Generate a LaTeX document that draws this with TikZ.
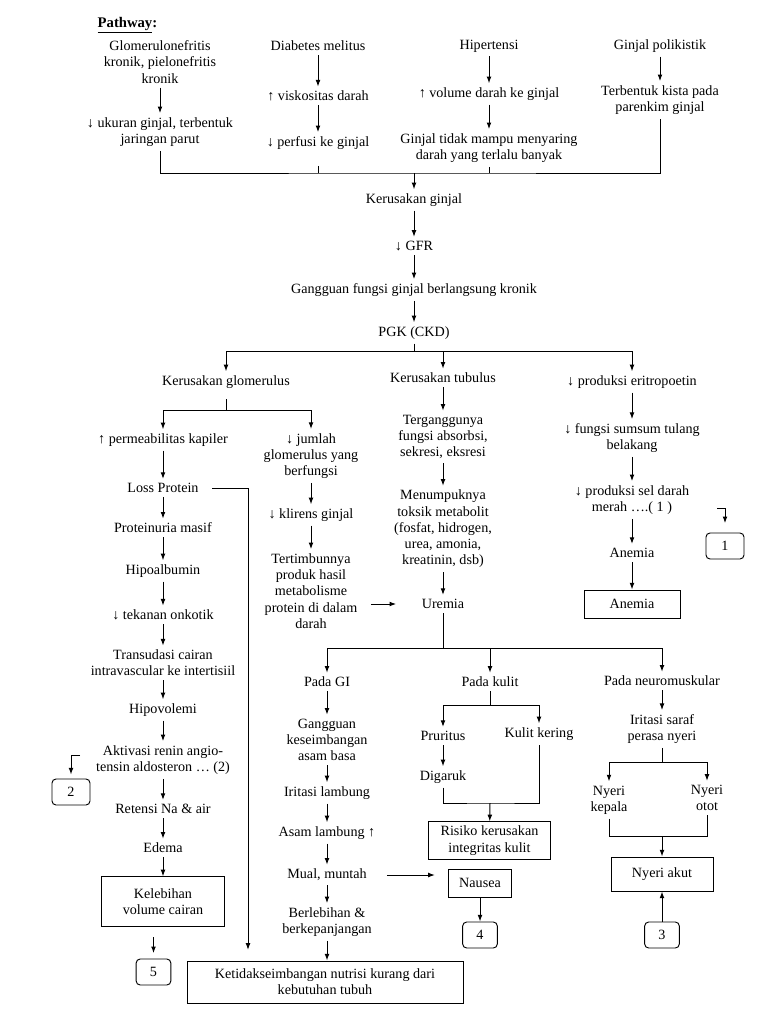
\documentclass[tikz,border=0pt]{standalone}
\usepackage{fontspec}
\setmainfont{Liberation Serif}
\usepackage{tikz}
\usetikzlibrary{arrows.meta}

\begin{document}
\begin{tikzpicture}[
  x=0.75pt, y=-0.75pt,
  every node/.style={font=\fontsize{10.6}{12.2}\selectfont},
  txt/.style={align=center, inner sep=3pt},
  box/.style={draw, align=center, line width=0.7pt, inner sep=2pt},
  numbox/.style={draw, rounded corners=3pt, line width=0.7pt, minimum width=26pt, minimum height=19.5pt, inner sep=0pt},
  arr/.style={-{Latex[length=5pt,width=3.6pt]}, line width=0.75pt},
  ln/.style={line width=0.75pt},
]
\useasboundingbox (0,0) rectangle (768,1024);
\node[anchor=west, font=\bfseries\fontsize{11}{13}\selectfont] (title) at (93,25) {\underline{Pathway}:};
% causes
\node[txt] (glomnef) at (160,62) {Glomerulonefritis\\kronik, pielonefritis\\kronik};
\node[txt] (ukuran) at (160,132) {↓ ukuran ginjal, terbentuk\\jaringan parut};
\node[txt] (dm) at (318,46) {Diabetes melitus};
\node[txt] (visko) at (318,96) {↑ viskositas darah};
\node[txt] (perfusi) at (318,143) {↓ perfusi ke ginjal};
\node[txt] (hiper) at (489,46) {Hipertensi};
\node[txt] (volume) at (489,94) {↑ volume darah ke ginjal};
\node[txt] (mampu) at (489,148) {Ginjal tidak mampu menyaring\\darah yang terlalu banyak};
\node[txt] (poli) at (660,46) {Ginjal polikistik};
\node[txt] (kista) at (660,100) {Terbentuk kista pada\\parenkim ginjal};
\coordinate (m1) at (414,173);
% main chain
\node[txt] (kerusakan) at (414,200) {Kerusakan ginjal};
\node[txt] (gfr) at (414,246) {↓ GFR};
\node[txt] (gangguan) at (414,290) {Gangguan fungsi ginjal berlangsung kronik};
\node[txt] (pgk) at (414,333) {PGK (CKD)};
\coordinate (m2) at (414,351);
\coordinate (b1) at (226,351);
\coordinate (b2) at (443,351);
\coordinate (b3) at (632,351);
\node[txt] (glom) at (226,382) {Kerusakan glomerulus};
\node[txt] (tubulus) at (443,378) {Kerusakan tubulus};
\node[txt] (eritro) at (632,382) {↓ produksi eritropoetin};
\coordinate (m3) at (226,410);
% glomerulus
\node[txt] (permea) at (163,440) {↑ permeabilitas kapiler};
\node[txt] (loss) at (163,488) {Loss Protein};
\node[txt] (proteinuria) at (163,528) {Proteinuria masif};
\node[txt] (hipoalb) at (163,571) {Hipoalbumin};
\node[txt] (onkotik) at (163,615) {↓ tekanan onkotik};
\node[txt] (transudasi) at (163,663) {Transudasi cairan\\intravascular ke intertisiil};
\node[txt] (hipovol) at (163,710) {Hipovolemi};
\node[txt] (renin) at (163,760) {Aktivasi renin angio-\\tensin aldosteron … (2)};
\node[txt] (retensi) at (163,809) {Retensi Na \& air};
\node[txt] (edema) at (163,848) {Edema};
\node[box, minimum width=92pt, minimum height=37pt] (kelebihan) at (163,901.5) {Kelebihan\\volume cairan};
\node[numbox] (n5) at (153.5,972) {5};
\node[numbox, minimum width=28.5pt] (n2) at (71,792) {2};
\coordinate (r2) at (80,755);
\coordinate (lp) at (248,490);
\node[txt] (jumlah) at (311,456) {↓ jumlah\\glomerulus yang\\berfungsi};
\node[txt] (klirens) at (311,515) {↓ klirens ginjal};
\node[txt] (tertimbun) at (311,591) {Tertimbunnya\\produk hasil\\metabolisme\\protein di dalam\\darah};
% tubulus
\node[txt] (terganggu) at (443,437) {Terganggunya\\fungsi absorbsi,\\sekresi, eksresi};
\node[txt] (menumpuk) at (443,529) {Menumpuknya\\toksik metabolit\\(fosfat, hidrogen,\\urea, amonia,\\kreatinin, dsb)};
\node[txt] (uremia) at (443,604) {Uremia};
% eritropoetin
\node[txt] (sumsum) at (632,438) {↓ fungsi sumsum tulang\\belakang};
\node[txt] (seldarah) at (632,500) {↓ produksi sel darah\\merah ….( 1 )};
\node[txt] (anemia) at (632,553) {Anemia};
\node[box, minimum width=72pt, minimum height=21pt] (anemiabox) at (632,604) {Anemia};
\node[numbox, minimum width=28.5pt] (n1) at (725,546) {1};
\coordinate (r1) at (717,508);
% uremia
\coordinate (m4) at (443,648);
\node[txt] (gi) at (327,682) {Pada GI};
\node[txt] (kulit) at (490,682) {Pada kulit};
\node[txt] (neuro) at (662,681) {Pada neuromuskular};
\node[txt] (asambasa) at (327,740) {Gangguan\\keseimbangan\\asam basa};
\node[txt] (iritasilamb) at (327,793) {Iritasi lambung};
\node[txt] (asamlamb) at (327,833) {Asam lambung ↑};
\node[txt] (mual) at (327,875) {Mual, muntah};
\node[txt] (berlebih) at (327,922) {Berlebihan \&\\berkepanjangan};
\node[box, minimum width=207pt, minimum height=31.5pt] (nutrisi) at (325,982) {Ketidakseimbangan nutrisi kurang dari\\kebutuhan tubuh};
\coordinate (m5) at (490,705);
\node[txt] (pruritus) at (443,736) {Pruritus};
\node[txt] (kering) at (539,734) {Kulit kering};
\node[txt] (digaruk) at (443,777) {Digaruk};
\coordinate (m6) at (490,803);
\node[box, minimum width=92pt, minimum height=28pt] (risiko) at (489.5,840.5) {Risiko kerusakan\\integritas kulit};
\node[box, minimum width=47pt, minimum height=21pt] (nausea) at (480,883) {Nausea};
\node[numbox] (n4) at (480,935) {4};
\node[txt] (saraf) at (662,729) {Iritasi saraf\\perasa nyeri};
\coordinate (m7) at (662,762);
\node[txt] (kepala) at (609,800) {Nyeri\\kepala};
\node[txt] (otot) at (707,798) {Nyeri\\otot};
\coordinate (m8) at (662,836);
\node[box, minimum width=76.5pt, minimum height=25.5pt] (akut) at (662,874) {Nyeri akut};
\node[numbox] (n3) at (662,935) {3};

\foreach \a/\b in {glomnef/ukuran, dm/visko, visko/perfusi, hiper/volume, volume/mampu, poli/kista,
  kerusakan/gfr, gfr/gangguan, gangguan/pgk, permea/loss, loss/proteinuria, proteinuria/hipoalb,
  hipoalb/onkotik, onkotik/transudasi, transudasi/hipovol, hipovol/renin, renin/retensi, retensi/edema,
  edema/kelebihan, jumlah/klirens, klirens/tertimbun, tubulus/terganggu, terganggu/menumpuk,
  menumpuk/uremia, eritro/sumsum, sumsum/seldarah, seldarah/anemia, anemia/anemiabox, gi/asambasa,
  asambasa/iritasilamb, iritasilamb/asamlamb, asamlamb/mual, mual/berlebih, pruritus/digaruk,
  neuro/saraf, nausea/n4, n3/akut}
  \draw[arr] (\a) -- (\b);

\draw[ln] (ukuran.south) |- (m1) -| (kista.south);
\draw[ln, shorten <=9pt] (perfusi.south) -- (perfusi.south |- m1);
\draw[ln] (mampu.south) -- (mampu.south |- m1);
\draw[arr] (m1) -- (kerusakan);
\draw[ln] (pgk) -- (m2);
\draw[ln] (b1) -- (b3);
\draw[arr] (b1) -- (glom);
\draw[arr] (b2) -- (tubulus);
\draw[arr] (b3) -- (eritro);
\draw[ln, shorten <=5pt] (glom) -- (m3);
\draw[ln] (m3 -| permea) -- (m3 -| jumlah);
\draw[arr] (m3 -| permea) -- (permea);
\draw[arr] (m3 -| jumlah) -- (jumlah);
\draw[arr, shorten <=7pt, shorten >=8pt] (loss.east) -- (loss.east -| lp) -- (lp |- nutrisi.north);
\draw[arr, shorten <=7pt, shorten >=16pt] (tertimbun.east |- uremia) -- (uremia);
\draw[arr, shorten <=8pt, shorten >=4pt] (kelebihan.south -| n5) -- (n5);
\draw[arr, shorten >=3pt] (r2) -| (n2.north);
\draw[arr, shorten >=7pt] (r1) -| (n1.north);
\draw[ln] (uremia) -- (m4);
\draw[ln] (m4 -| gi) -- (m4 -| neuro);
\draw[arr] (m4 -| gi) -- (gi);
\draw[arr] (m4 -| kulit) -- (kulit);
\draw[arr] (m4 -| neuro) -- (neuro);
\draw[arr] (berlebih) -- (berlebih |- nutrisi.north);
\draw[arr, shorten <=12pt, shorten >=10pt] (mual.east) -- (mual.east -| nausea.west);
\draw[ln] (kulit) -- (m5);
\draw[ln] (m5 -| pruritus) -- (m5 -| kering);
\draw[arr] (m5 -| pruritus) -- (pruritus);
\draw[arr] (m5 -| kering) -- (kering);
\draw[ln] (digaruk.south) |- (m6) -| (kering.south);
\draw[arr] (m6) -- (risiko);
\draw[ln] (saraf) -- (m7);
\draw[ln] (m7 -| kepala) -- (m7 -| otot);
\draw[arr] (m7 -| kepala) -- (kepala);
\draw[arr] (m7 -| otot) -- (otot);
\draw[ln] (kepala.south) |- (m8) -| (otot.south);
\draw[arr] (m8) -- (akut);
\end{tikzpicture}
\end{document}
